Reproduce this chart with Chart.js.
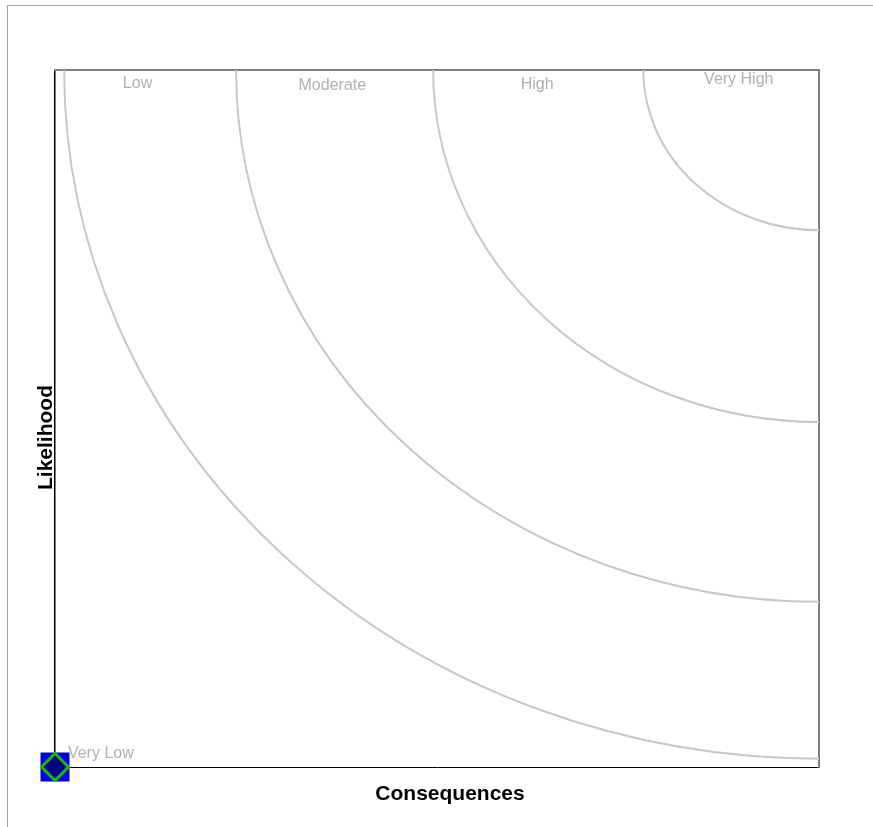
<!DOCTYPE html>
<html>
<head>
<meta charset="utf-8">
<title>Risk zones</title>
<script src="https://cdn.jsdelivr.net/npm/chart.js@4.4.1/dist/chart.umd.min.js"></script>
<style>
  body { margin: 0; background: #fff; }
  .frame {
    position: absolute; left: 7px; top: 5px; right: 0; bottom: 0;
    border-top: 1px solid #a0a0a0; border-left: 1px solid #a0a0a0;
  }
  .chart-box { position: absolute; left: 0; top: 0; width: 873px; height: 827px; }
</style>
</head>
<body>
<div class="frame"></div>
<div class="chart-box"><canvas id="chart"></canvas></div>
<script>
// zones: radius of each arc (percent of axis), measured from the top-right corner
const zoneRadii = [98.8, 76.3, 50.5, 23];

// zone labels and where they sit (axis units 0..100)
const zoneLabels = ['Very Low', 'Low', 'Moderate', 'High', 'Very High'];
const labelX = [6.0, 10.8, 36.3, 63.1, 89.5];
const labelY = [1.9, 98.0, 97.7, 97.9, 98.6];

// the single assessed item
const itemPoint = [{ x: 0, y: 0 }];

const xTitle = 'Consequences';
const yTitle = 'Likelihood';
const FONT = "'Liberation Sans', Arial, Helvetica, sans-serif";

// arcs drawn through the scales
const zoneArcs = {
  id: 'zoneArcs',
  beforeDatasetsDraw(chart) {
    const { ctx, chartArea, scales: { x, y } } = chart;
    const cx = x.getPixelForValue(100);
    const cy = y.getPixelForValue(100);
    ctx.save();
    ctx.beginPath();
    ctx.rect(chartArea.left, chartArea.top, chartArea.width, chartArea.height);
    ctx.clip();
    ctx.strokeStyle = '#c9c9c4';
    ctx.lineWidth = 2;
    zoneRadii.forEach(r => {
      const rx = cx - x.getPixelForValue(100 - r);
      const ry = y.getPixelForValue(100 - r) - cy;
      ctx.beginPath();
      ctx.ellipse(cx, cy, rx, ry, 0, Math.PI / 2, Math.PI);
      ctx.stroke();
    });
    ctx.restore();
  },
  afterDatasetsDraw(chart) {
    const { ctx, scales: { x, y } } = chart;
    ctx.save();
    ctx.font = '16px ' + FONT;
    ctx.fillStyle = '#b0b0b0';
    ctx.textBaseline = 'middle';
    ctx.textAlign = 'center';
    zoneLabels.forEach((t, i) => {
      ctx.fillText(t, x.getPixelForValue(labelX[i]), y.getPixelForValue(labelY[i]));
    });
    ctx.restore();
  },
  afterDraw(chart) {
    const { ctx, chartArea } = chart;
    ctx.save();
    ctx.font = 'bold 21px ' + FONT;
    ctx.fillStyle = '#000';
    ctx.textAlign = 'center';
    ctx.textBaseline = 'middle';
    ctx.fillText(xTitle, (chartArea.left + chartArea.right) / 2 + 13, chartArea.bottom + 27);
    ctx.translate(chartArea.left - 9, (chartArea.top + chartArea.bottom) / 2 + 19);
    ctx.rotate(-Math.PI / 2);
    ctx.fillText(yTitle, 0, 0);
    ctx.restore();
  }
};

const hidden = { display: false };

new Chart(document.getElementById('chart'), {
  type: 'scatter',
  data: {
    datasets: [
      // dataset 0 is drawn on top: the diamond
      {
        data: itemPoint,
        pointStyle: 'rectRot',
        pointRadius: 13.5,
        backgroundColor: '#000080',
        borderColor: '#10c010',
        borderWidth: 3,
        clip: false,
      },
      {
        data: itemPoint,
        pointStyle: 'rect',
        pointRadius: 20.5,
        backgroundColor: '#0000e0',
        borderWidth: 0,
        clip: false,
      },
    ],
  },
  options: {
    animation: false,
    events: [],
    responsive: true,
    maintainAspectRatio: false,
    layout: { padding: { left: 55, right: 54, top: 70, bottom: 60 } },
    plugins: { legend: hidden, tooltip: { enabled: false } },
    scales: {
      x: {
        min: 0, max: 100,
        ticks: hidden,
        grid: { display: false, drawTicks: false },
        border: { color: '#000', width: 1 },
      },
      y: {
        min: 0, max: 100,
        ticks: hidden,
        grid: { display: false, drawTicks: false },
        border: { color: '#000', width: 1.5 },
      },
      x2: {
        position: 'top', min: 0, max: 100,
        ticks: hidden,
        grid: { display: false, drawTicks: false },
        border: { color: '#808080', width: 2 },
      },
      y2: {
        position: 'right', min: 0, max: 100,
        ticks: hidden,
        grid: { display: false, drawTicks: false },
        border: { color: '#808080', width: 2 },
      },
    },
  },
  plugins: [zoneArcs],
});
</script>
</body>
</html>
